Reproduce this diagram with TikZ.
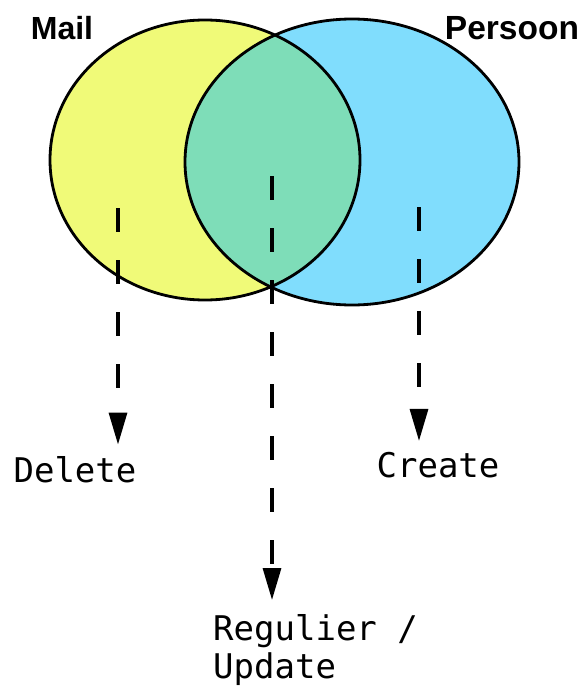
\documentclass[tikz,border=0pt]{standalone}
\usepackage{fontspec}
\usepackage{tikz}
\usetikzlibrary{arrows.meta,positioning}
\setmainfont{Liberation Sans}
\newfontfamily\codefont{DejaVu Sans Mono}
\definecolor{vyellow}{HTML}{F0FA78}
\definecolor{vblue}{HTML}{80DDFD}
\definecolor{vgreen}{HTML}{7EDDB8}

\begin{document}
\begin{tikzpicture}[x=1pt,y=-1pt,
    setlabel/.style={font=\bfseries\fontsize{32}{36}\selectfont},
    action/.style={font=\codefont\fontsize{34}{38}\selectfont,align=left,inner sep=2pt},
    flow/.style={-{Triangle[length=32pt,width=18pt]},line width=3.2pt,dash pattern=on 24pt off 28pt}]
  \useasboundingbox (0,0) rectangle (587,690);

  % the two sets
  \fill[vyellow] (205,160) ellipse [x radius=155,y radius=140];
  \fill[vblue]   (352,162) ellipse [x radius=167,y radius=143];
  \begin{scope}
    \clip (205,160) ellipse [x radius=155,y radius=140];
    \fill[vgreen] (352,162) ellipse [x radius=167,y radius=143];
  \end{scope}
  \draw[line width=2.8pt] (205,160) ellipse [x radius=155,y radius=140];
  \draw[line width=2.8pt] (352,162) ellipse [x radius=167,y radius=143];

  \node[setlabel] (mail)    at (62,28)  {Mail};
  \node[setlabel,font=\bfseries\fontsize{33.5}{36}\selectfont] (persoon) at (512,28) {Persoon};

  % actions
  \node[action] (del) at (75,470)  {Delete};
  \node[action] (cre) at (438,465) {Create};
  \node[action,anchor=north west] (upd) at (211,612) {Regulier /\\Update};

  \coordinate (sdel) at (118,208);
  \coordinate (supd) at (272,176);
  \coordinate (scre) at (419,207);

  \draw[flow,shorten >=10pt] (sdel) -- (sdel |- del.north);
  \draw[flow,shorten >=12pt] (supd) -- (supd |- upd.north);
  \draw[flow,shorten >=9pt]  (scre) -- (scre |- cre.north);
\end{tikzpicture}
\end{document}
